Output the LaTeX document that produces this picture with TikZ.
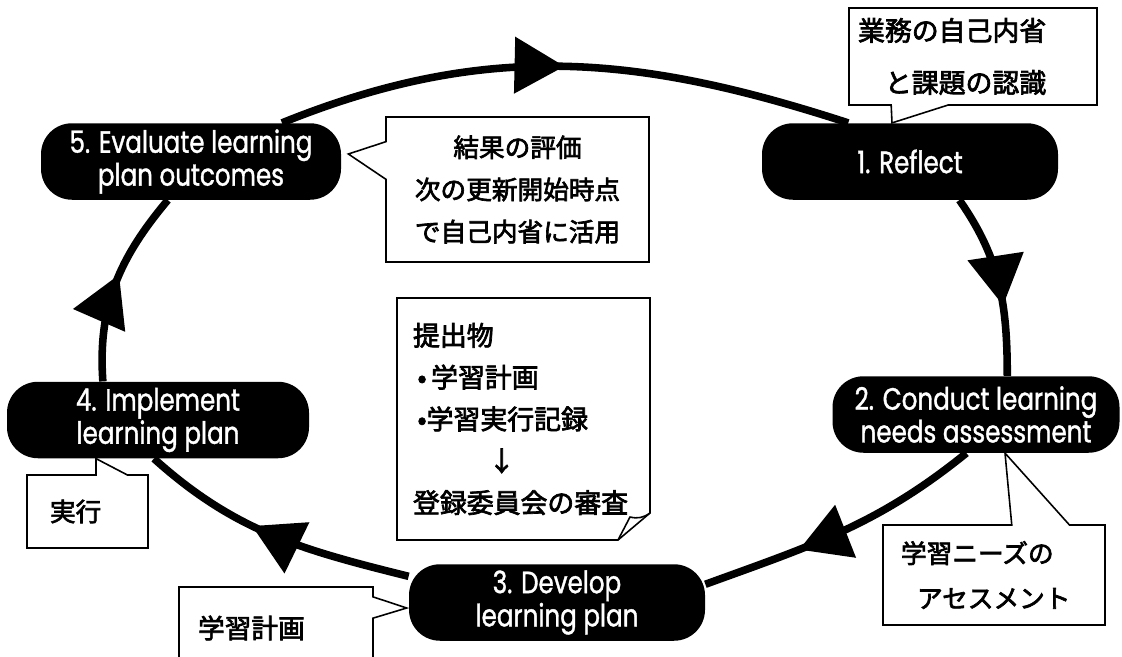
\documentclass[tikz,border=0pt]{standalone}
\usepackage{fontspec}
\newfontfamily\engfont[FakeStretch=0.8,FakeBold=1.2]{Poppins}
\newfontfamily\jpfont[FakeBold=2.6]{Noto Sans CJK JP}
\usetikzlibrary{arrows.meta,positioning,calc,decorations.markings}
\tikzset{
  stage/.style={fill=black,text=white,rounded corners=0.62cm,minimum height=1.53cm,inner sep=0pt,align=center,font=\engfont\fontsize{17.5}{13.5}\selectfont},
  note/.style={inner ysep=0pt,outer sep=0pt,align=left,font=\jpfont\fontsize{14.6}{24}\selectfont},
  callout/.style={draw,line width=0.9pt},
  cyc/.style={line width=4.3pt,postaction={decorate},
    decoration={markings,mark=at position #1 with {\arrow{Triangle[length=1cm,width=1.1cm]}}}},
  cyc/.default=0.5,
}
\begin{document}
\begin{tikzpicture}
\useasboundingbox (0,0) rectangle (22.44,13.12);
\node[stage,minimum width=5.92cm] (reflect) at (18.20,9.89) {1. Reflect};
\node[stage,minimum width=5.74cm] (assess) at (19.52,4.83) {2. Conduct learning\\needs assessment};
\node[stage,minimum width=5.92cm] (develop) at (11.14,1.07) {3. Develop\\learning plan};
\node[stage,minimum width=6.04cm] (implement) at (3.16,4.72) {4. Implement\\learning plan};
\node[stage,minimum width=6.0cm] (evaluate) at (3.82,9.89) {5. Evaluate learning\\plan outcomes};

\draw[cyc] (evaluate.23) to[out=22,in=162] (reflect.148);
\draw[cyc=0.62] (reflect.-38) to[out=-55,in=90] (assess.51);
\draw[cyc=0.66] (assess.-104) to[out=-141,in=20] (develop.7);
\draw[cyc=0.58] (develop.170) to[out=166,in=-42] (implement.-96);
\draw[cyc=0.55] (implement.145) to[out=94,in=-130] (evaluate.-121);

\node[note,text width=4.6cm,inner xsep=0.18cm,minimum height=1.94cm,font=\jpfont\fontsize{15.3}{29.6}\selectfont] (noteReflect) at (19.46,11.99) {業務の自己内省\\　と課題の認識};
\node[note,align=center,text width=5.26cm,inner xsep=0pt,minimum height=2.9cm] (noteEval) at (10.35,9.33) {結果の評価\\次の更新開始時点\\で自己内省に活用};
\node[note,text width=4.42cm,inner xsep=0.32cm,minimum height=4.84cm,font=\jpfont\fontsize{15.3}{23.8}\selectfont] (noteSubmit) at (10.47,4.74) {提出物\\\,•\,学習計画\\\,•学習実行記録\\\hspace*{2.8em}↓\\登録委員会の審査};
\node[note,text width=1.5cm,inner xsep=0.46cm,minimum height=1.46cm] (noteDo) at (1.75,2.89) {実行};
\node[note,text width=3.12cm,inner xsep=0.38cm,minimum height=1.64cm,font=\jpfont\fontsize{15.2}{24}\selectfont] (notePlan) at (5.52,0.56) {学習計画};
\node[note,text width=3.72cm,inner xsep=0.36cm,minimum height=2.0cm,font=\jpfont\fontsize{14.6}{25.6}\selectfont] (noteAssess) at (19.88,1.62) {学習ニーズの\\\hspace*{0.32cm}アセスメント};

\draw[callout] (noteReflect.north west) -- (noteReflect.north east) -- (noteReflect.south east)
  -- ($(noteReflect.south west)!0.40!(noteReflect.south east)$) -- ($(reflect.north)+(-0.36,0)$)
  -- ($(noteReflect.south west)!0.17!(noteReflect.south east)$) -- (noteReflect.south west) -- cycle;
\draw[callout] (noteEval.north west) -- (noteEval.north east) -- (noteEval.south east) -- (noteEval.south west)
  -- ($(noteEval.north west)!0.43!(noteEval.south west)$) -- ($(evaluate.east)+(0.14,0.15)$)
  -- ($(noteEval.north west)!0.17!(noteEval.south west)$) -- cycle;
\draw[callout] (noteSubmit.north west) -- (noteSubmit.north east) -- ($(noteSubmit.south east)+(0,0.54)$)
  -- ($(noteSubmit.south east)+(-0.64,0)$) -- (noteSubmit.south west) -- cycle;
\draw[callout] ($(noteSubmit.south east)+(0,0.54)$) to[bend left=25] ($(noteSubmit.south east)+(-0.4,0.46)$)
  -- ($(noteSubmit.south east)+(-0.64,0)$);
\draw[callout] (noteDo.north west) -- ($(noteDo.north west)!0.57!(noteDo.north east)$) -- ($(implement.south)+(-1.24,0)$)
  -- ($(noteDo.north west)!0.83!(noteDo.north east)$) -- (noteDo.north east) -- (noteDo.south east) -- (noteDo.south west) -- cycle;
\draw[callout] (notePlan.north west) -- (notePlan.north east) -- ($(notePlan.north east)!0.12!(notePlan.south east)$)
  -- ($(develop.west)+(-0.04,-0.11)$) -- ($(notePlan.north east)!0.38!(notePlan.south east)$)
  -- (notePlan.south east) -- (notePlan.south west) -- cycle;
\draw[callout] (noteAssess.north west) -- ($(noteAssess.north west)!0.58!(noteAssess.north east)$) -- ($(assess.south)+(0.58,0)$)
  -- ($(noteAssess.north west)!0.84!(noteAssess.north east)$) -- (noteAssess.north east) -- (noteAssess.south east) -- (noteAssess.south west) -- cycle;
\end{tikzpicture}
\end{document}
